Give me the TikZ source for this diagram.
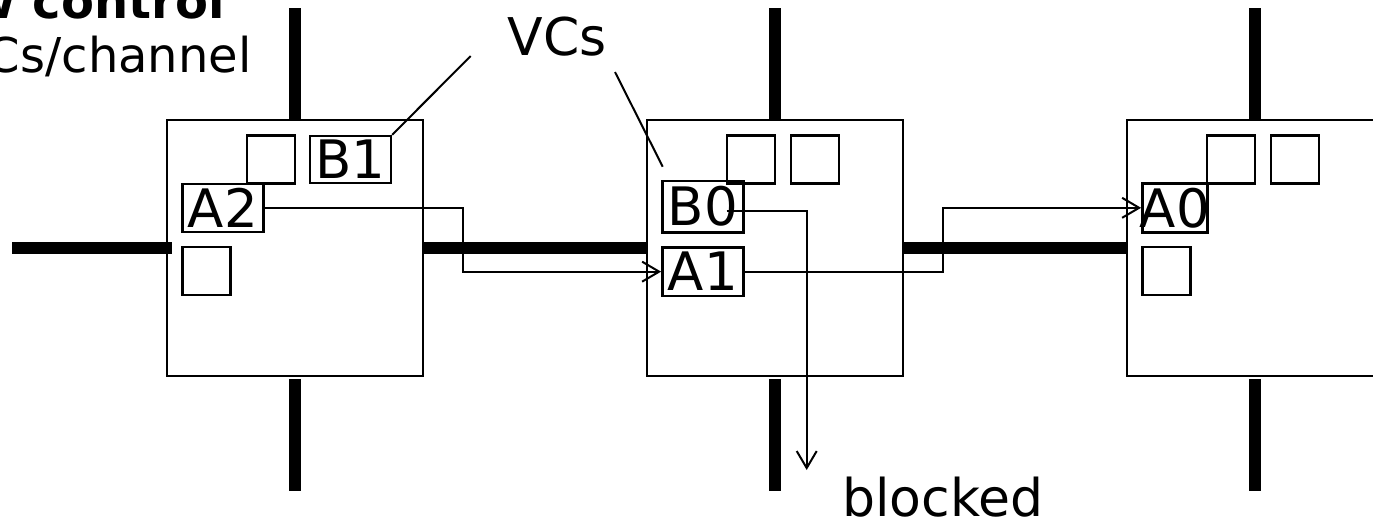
\documentclass[tikz,border=0pt]{standalone}
\usepackage{fontspec}
\setmainfont{DejaVu Sans}
\usetikzlibrary{arrows.meta}
\begin{document}
\begin{tikzpicture}[x=0.5pt,y=-0.5pt,
  router/.style={draw,line width=1.25pt,rectangle,minimum width=128pt,minimum height=128pt,inner sep=0pt},
  vcbox/.style={draw,line width=1.2pt,rectangle,inner sep=0pt,minimum width=24pt,minimum height=24pt},
  lbl/.style={font=\fontsize{26.5}{30}\selectfont},
  bar/.style={line width=6pt},
  thin/.style={line width=1pt},
  arr/.style={line width=1pt,-{Straight Barb[length=8.5pt,width=10pt,line width=1pt]}},
  txt/.style={font=\fontsize{26}{30}\selectfont,inner sep=0pt},
  head/.style={font=\fontsize{24}{28}\selectfont,inner sep=0pt},
  headbf/.style={font=\fontsize{24}{28}\selectfont\bfseries,inner sep=0pt}
]
\useasboundingbox (0,0) rectangle (1373,521);

% routers
\node[router] (R1) at (294.85,247.75) {};
\node[router] (R2) at (774.85,247.75) {};
\node[router] (R3) at (1254.85,247.75) {};

% thick channel bars
\coordinate (t1) at (294.85,8);
\coordinate (t2) at (774.85,8);
\coordinate (t3) at (1254.85,8);
\coordinate (b1) at (294.85,491);
\coordinate (b2) at (774.85,491);
\coordinate (b3) at (1254.85,491);
\coordinate (lw) at (12,247.75);
\draw[bar] (R1.north) -- (t1);
\draw[bar] (R2.north) -- (t2);
\draw[bar] (R3.north) -- (t3);
\draw[bar] ([yshift=-1pt]R1.south) -- (b1);
\draw[bar] ([yshift=-1pt]R2.south) -- (b2);
\draw[bar] ([yshift=-1pt]R3.south) -- (b3);
\draw[bar] (lw) -- ([xshift=3pt]R1.west);
\draw[bar] (R1.east) -- (R2.west);
\draw[bar] (R2.east) -- (R3.west);

% router 1 buffers
\node[vcbox] (e1) at (270.85,159.5) {};
\node[vcbox,minimum width=40.5pt,minimum height=23.5pt,label={[lbl]center:B1}] (B1) at (350.5,159.5) {};
\node[vcbox,minimum width=40.5pt,label={[lbl]center:A2}] (A2) at (222.8,208) {};
\node[vcbox] (e2) at (206.65,271.15) {};

% router 2 buffers
\node[vcbox] (e3) at (750.85,159.5) {};
\node[vcbox] (e4) at (814.85,159.5) {};
\node[vcbox,minimum width=40.5pt,minimum height=25.8pt,label={[lbl]center:B0}] (B0) at (702.8,206.5) {};
\node[vcbox,minimum width=40.5pt,minimum height=24.3pt,label={[lbl]center:A1}] (A1) at (702.8,271.65) {};

% router 3 buffers
\node[vcbox] (e5) at (1230.85,159.5) {};
\node[vcbox] (e6) at (1294.85,159.5) {};
\node[vcbox,minimum width=32.5pt,minimum height=24.5pt,label={[lbl]center:A0}] (A0) at (1174.8,207.8) {};
\node[vcbox] (e7) at (1166.65,271.15) {};

% packet paths
\coordinate (j1) at (462.7,240);
\coordinate (j2) at (942.7,240);
\coordinate (b0s) at (726.7,211);
\coordinate (blk) at (806.7,470);
\draw[arr] (A2.east) -| (j1) |- (A1.west);
\draw[arr] (A1.east) -| (j2) |- (A0.west);
\draw[arr] (b0s) -| (blk);

% labels
\node[txt,anchor=base] (vcs) at (557,55) {VCs};
\coordinate (v1) at (470.7,56);
\coordinate (v2) at (615,72);
\coordinate (v2e) at (662.7,166.7);
\draw[thin] (v1) -- (B1.north east);
\draw[thin] (v2) -- (v2e);

\node[txt,anchor=base west] (blocked) at (842,516) {blocked};
\node[headbf,anchor=base east] (title) at (225,18) {w control};
\node[head,anchor=base east] (sub) at (252,72) {Cs/channel};
\end{tikzpicture}
\end{document}
